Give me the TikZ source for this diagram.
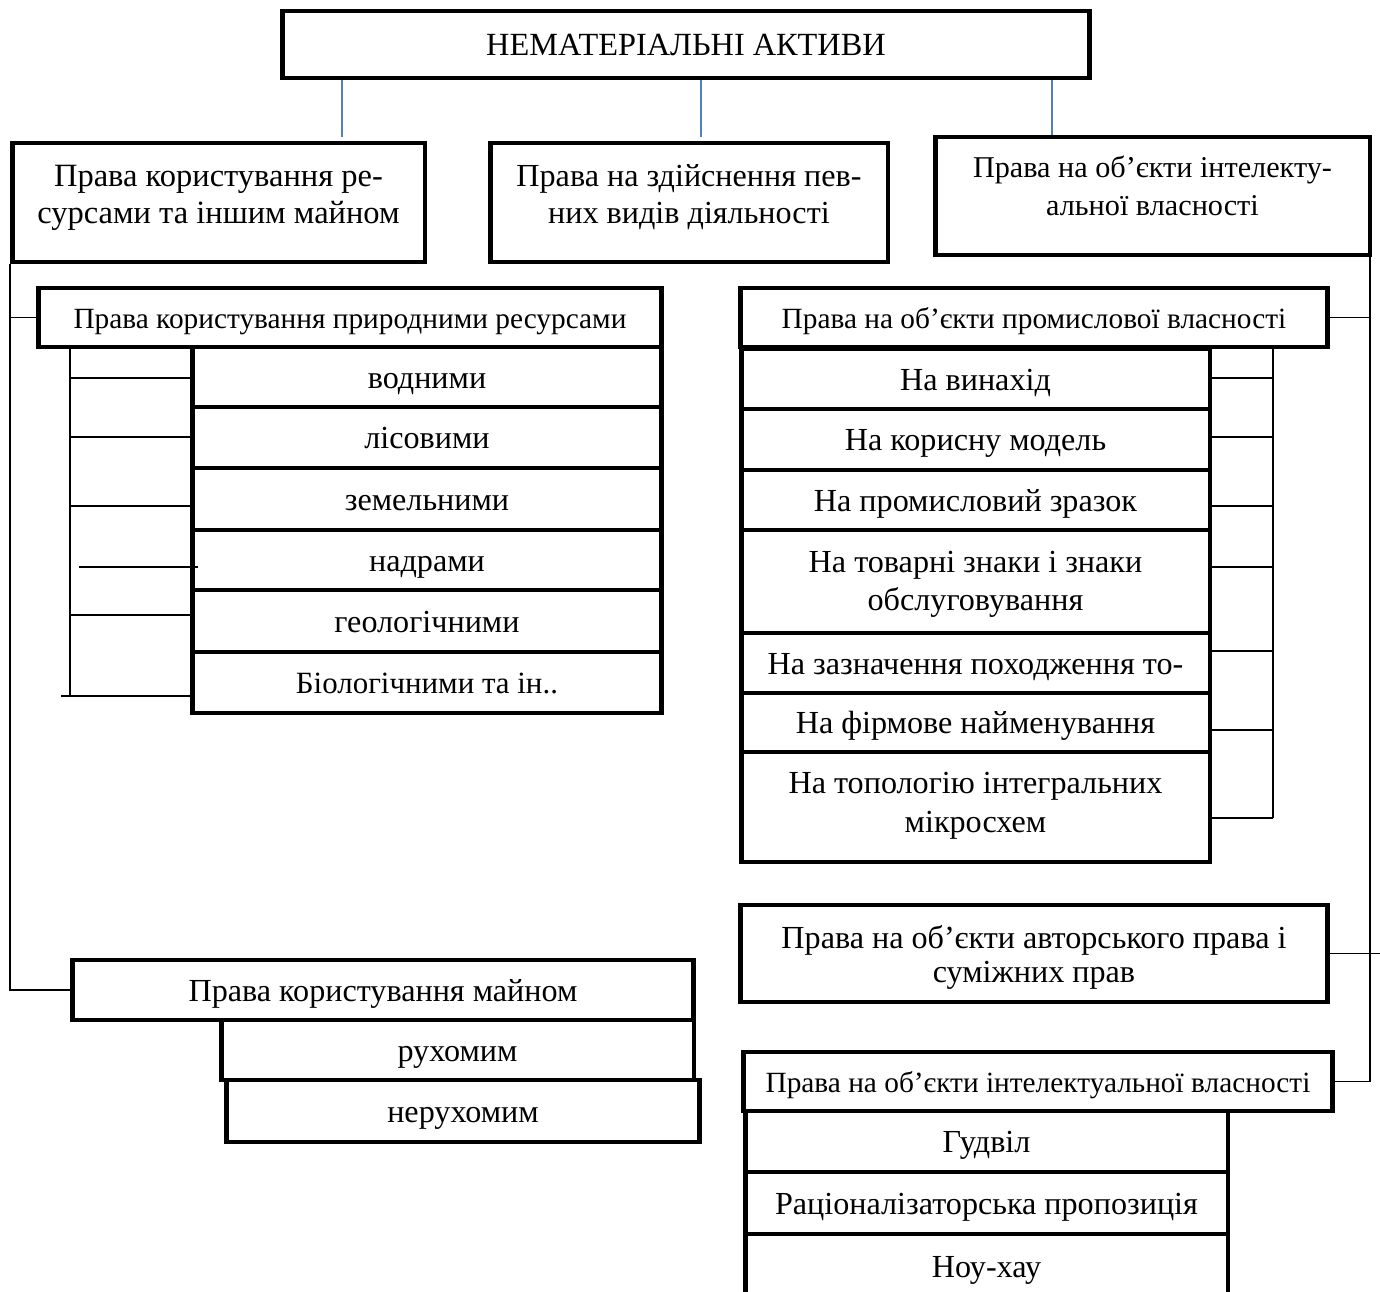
\documentclass[tikz,border=0pt]{standalone}
\usepackage{fontspec}
\setmainfont{Liberation Serif}
\newcommand\fsz[2]{\fontsize{#1}{#2}\selectfont}
\definecolor{wordblue}{HTML}{4F81BD}
\begin{document}
\begin{tikzpicture}[x=0.02cm,y=-0.02cm,
  box/.style={draw, line width=2.8pt, rectangle, inner sep=0pt, align=center,
    font=\fsz{18.3}{21.5}},
  one/.style={text height=15pt, text depth=2pt},
  txt/.style={inner sep=0pt, align=center},
  conn/.style={line width=1.1pt},
  blueconn/.style={line width=0.9pt, draw=wordblue}]
\fill[white] (0,0) rectangle (1380,1292);
\useasboundingbox (0,0) rectangle (1380,1292);

% top
\node[box, minimum width=16.16cm, minimum height=1.34cm, font=\fsz{18.4}{22}] (top) at (686,44.5) {НЕМАТЕРІАЛЬНІ АКТИВИ};

% level 1
\node[box, minimum width=8.26cm, minimum height=2.38cm] (l1) at (218.5,202.5) {};
\node[txt, font=\fsz{18.5}{21}] (l1t) at (218.5,197.5) {Права користування ре-\\сурсами та іншим майном};
\node[box, minimum width=7.96cm, minimum height=2.38cm] (l2) at (689,202.5) {};
\node[txt, font=\fsz{18.3}{21}] (l2t) at (689,197.5) {Права на здійснення пев-\\них видів діяльності};
\node[box, minimum width=8.7cm, minimum height=2.36cm] (l3) at (1152.5,196) {};
\node[txt, font=\fsz{17.2}{21.5}] (l3t) at (1152.5,186) {Права на об’єкти інтелекту-\\альної власності};

\coordinate (b1) at (342,137);
\coordinate (b2) at (701,137);
\coordinate (b3) at (1052,137);
\draw[blueconn] (top.south -| b1) -- (b1);
\draw[blueconn] (top.south -| b2) -- (b2);
\draw[blueconn] (top.south -| b3) -- (l3.north -| b3);

% natural resources
\node[box, one, minimum width=12.48cm, minimum height=1.18cm, font=\fsz{16.7}{20}] (nat) at (350,317.5) {Права користування природними ресурсами};
\node[box, one, minimum width=9.4cm, minimum height=1.2cm] (w1) at (427,377) {водними};
\node[box, one, minimum width=9.4cm, minimum height=1.22cm] (w2) at (427,437.5) {лісовими};
\node[box, one, minimum width=9.4cm, minimum height=1.24cm] (w3) at (427,499) {земельними};
\node[box, one, minimum width=9.4cm, minimum height=1.2cm] (w4) at (427,560) {надрами};
\node[box, one, minimum width=9.4cm, minimum height=1.24cm] (w5) at (427,621) {геологічними};
\node[box, one, minimum width=9.4cm, minimum height=1.22cm, font=\fsz{17.6}{21}] (w6) at (427,682.5) {Біологічними та ін..};

% property
\node[box, one, minimum width=12.44cm, minimum height=1.2cm] (mayno) at (383,990) {Права користування майном};
\node[box, one, minimum width=9.46cm, minimum height=1.2cm] (rukh) at (457.5,1050) {рухомим};
\node[box, one, minimum width=9.48cm, minimum height=1.24cm] (nerukh) at (463,1111) {нерухомим};

% industrial property
\node[box, one, minimum width=11.76cm, minimum height=1.18cm, font=\fsz{16.7}{20}] (ind) at (1034,317.5) {Права на об’єкти промислової власності};
\node[box, one, minimum width=9.38cm, minimum height=1.2cm] (r1) at (975.5,379) {На винахід};
\node[box, one, minimum width=9.38cm, minimum height=1.22cm] (r2) at (975.5,439.5) {На корисну модель};
\node[box, one, minimum width=9.38cm, minimum height=1.2cm] (r3) at (975.5,500) {На промисловий зразок};
\node[box, minimum width=9.38cm, minimum height=2.06cm] (r4) at (975.5,581.5) {};
\node[txt, font=\fsz{18.3}{21.5}] (r4t) at (975.5,584.5) {На товарні знаки і знаки\\обслуговування};
\node[box, one, minimum width=9.38cm, minimum height=1.2cm] (r5) at (975.5,663) {На зазначення походження то-};
\node[box, one, minimum width=9.38cm, minimum height=1.18cm] (r6) at (975.5,722.5) {На фірмове найменування};
\node[box, minimum width=9.38cm, minimum height=2.2cm] (r7) at (975.5,807) {};
\node[txt, font=\fsz{18.3}{22}] (r7t) at (975.5,806) {На топологію інтегральних\\мікросхем};

% copyright
\node[box, minimum width=11.76cm, minimum height=1.94cm] (copy) at (1034,953.5) {};
\node[txt, font=\fsz{18.3}{19.3}] (copyt) at (1034,957.5) {Права на об’єкти авторського права і\\суміжних прав};

% intellectual property (lower)
\node[box, one, minimum width=11.8cm, minimum height=1.18cm, font=\fsz{16.7}{20}] (intel) at (1038,1081.5) {Права на об’єкти інтелектуальної власності};
\node[box, one, minimum width=9.66cm, minimum height=1.22cm] (g1) at (986.5,1141.5) {Гудвіл};
\node[box, one, minimum width=9.66cm, minimum height=1.24cm] (g2) at (986.5,1203) {Раціоналізаторська пропозиція};
\node[box, one, minimum width=9.66cm, minimum height=1.28cm] (g3) at (986.5,1266) {Ноу-хау};

% left connectors
\draw[conn] (l1.south west) |- (mayno.west);
\draw[conn] (nat.west -| l1.south west) -- (nat.west);
\coordinate (lb) at (70,347);
\draw[conn] (lb) -- (lb |- 0,696);
\draw[conn] (lb |- 0,378) -- (w1.west |- 0,378);
\draw[conn] (lb |- 0,437) -- (w2.west |- 0,437);
\draw[conn] (lb |- 0,506) -- (w3.west |- 0,506);
\draw[conn] ([xshift=5]lb |- 0,567) -- ([xshift=5]w4.west |- 0,567);
\draw[conn] (lb |- 0,615) -- (w5.west |- 0,615);
\draw[conn] ([xshift=-5]lb |- 0,696) -- (w6.west |- 0,696);

% right connectors
\coordinate (rv) at (1370,255);
\draw[conn] (rv) -- (rv |- intel.east);
\draw[conn] (ind.east) -- (ind.east -| rv);
\draw[conn] (copy.east) -- ([xshift=8]copy.east -| rv);
\draw[conn] (intel.east) -- (intel.east -| rv);
\coordinate (rb) at (1273,347);
\draw[conn] (rb) -- (rb |- 0,818);
\draw[conn] (r1.east |- 0,378) -- (rb |- 0,378);
\draw[conn] (r2.east |- 0,437) -- (rb |- 0,437);
\draw[conn] (r3.east |- 0,506) -- (rb |- 0,506);
\draw[conn] (r4.east |- 0,567) -- (rb |- 0,567);
\draw[conn] (r5.east |- 0,651) -- (rb |- 0,651);
\draw[conn] (r6.east |- 0,730) -- (rb |- 0,730);
\draw[conn] (r7.east |- 0,818) -- (rb |- 0,818);
\end{tikzpicture}
\end{document}
